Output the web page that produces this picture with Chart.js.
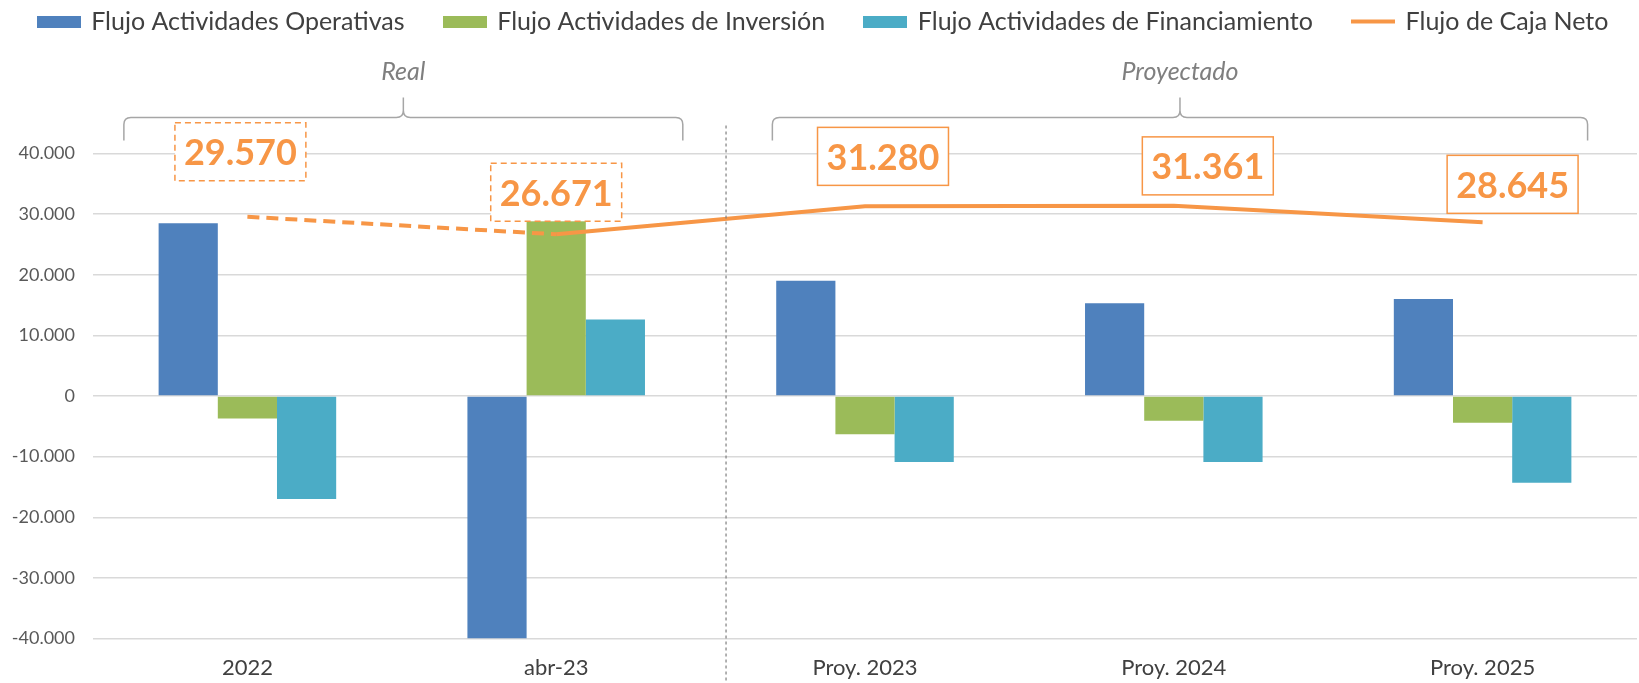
<!DOCTYPE html>
<html>
<head>
<meta charset="utf-8">
<script src="https://cdn.jsdelivr.net/npm/chart.js@4.4.0/dist/chart.umd.min.js"></script>
<style>
  html, body { margin: 0; padding: 0; background: #fff; }
  canvas { display: block; }
</style>
</head>
<body>
<canvas id="chart" width="1639" height="683"></canvas>
<script>
// data
const categories = ['2022', 'abr-23', 'Proy. 2023', 'Proy. 2024', 'Proy. 2025'];
const operativas = [28500, -40000, 19000, 15300, 16000];
const inversion = [-3700, 28900, -6300, -4100, -4400];
const financiamiento = [-17000, 12600, -10900, -10900, -14300];
const cajaNeto = [29570, 26671, 31280, 31361, 28645];
const seriesNames = ['Flujo Actividades Operativas', 'Flujo Actividades de Inversión',
  'Flujo Actividades de Financiamiento', 'Flujo de Caja Neto'];
const groupNames = ['Real', 'Proyectado'];
const realCount = 2;   // first two categories are actual figures
const yMin = -40000, yMax = 40000, yStep = 10000;

const BLUE = '#4F81BD', GREEN = '#9BBB59', TEAL = '#4BACC6', ORANGE = '#F79646';

// label box offsets from each point (px)
const labelOffsets = [[-7, -65], [0, -42], [18, -50], [34, -40], [30, -38]];
// bracket spans in category units
const groupSpans = [[-0.4, 1.41], [1.7, 4.34]];
const separatorAt = 1.55;

function fmt(v) {
  const s = Math.abs(Math.round(v)).toString().replace(/\B(?=(\d{3})+(?!\d))/g, '.');
  return (v < 0 ? '-' : '') + s;
}

function legendIcon(color, h) {
  const c = document.createElement('canvas');
  c.width = 44; c.height = 12;
  const x = c.getContext('2d');
  x.fillStyle = color;
  x.fillRect(0, (12 - h) / 2, 44, h);
  return c;
}
const legendIcons = [legendIcon(BLUE, 12), legendIcon(GREEN, 12), legendIcon(TEAL, 12), legendIcon(ORANGE, 4)];

function brace(ctx, x1, x2, yLine, yEnd, yTip) {
  const xm = (x1 + x2) / 2, r = 7;
  ctx.beginPath();
  ctx.moveTo(x1, yEnd);
  ctx.lineTo(x1, yLine + r);
  ctx.quadraticCurveTo(x1, yLine, x1 + r, yLine);
  ctx.lineTo(xm - r, yLine);
  ctx.quadraticCurveTo(xm, yLine, xm, yLine - r);
  ctx.lineTo(xm, yTip);
  ctx.moveTo(xm, yLine - r);
  ctx.quadraticCurveTo(xm, yLine, xm + r, yLine);
  ctx.lineTo(x2 - r, yLine);
  ctx.quadraticCurveTo(x2, yLine, x2, yLine + r);
  ctx.lineTo(x2, yEnd);
  ctx.stroke();
}

const decorations = {
  id: 'decorations',
  afterDraw(chart) {
    const ctx = chart.ctx, xs = chart.scales.x, top = chart.chartArea.top;
    ctx.save();
    // brackets + group titles
    ctx.strokeStyle = '#A6A6A6';
    ctx.lineWidth = 1.5;
    ctx.font = 'italic 25px Lato';
    ctx.fillStyle = '#7F7F7F';
    ctx.textAlign = 'center';
    ctx.textBaseline = 'middle';
    groupSpans.forEach((span, i) => {
      const x1 = xs.getPixelForValue(span[0]), x2 = xs.getPixelForValue(span[1]);
      brace(ctx, x1, x2, top - 36, top - 13, top - 56);
      ctx.fillText(groupNames[i], (x1 + x2) / 2, top - 82);
    });
    // dotted separator between real and projected
    const sx = xs.getPixelForValue(separatorAt);
    ctx.strokeStyle = '#7F7F7F';
    ctx.lineWidth = 1.2;
    ctx.setLineDash([3, 3]);
    ctx.beginPath();
    ctx.moveTo(sx, top - 28);
    ctx.lineTo(sx, chart.height);
    ctx.stroke();
    ctx.setLineDash([]);

    // net cash flow labels
    const meta = chart.getDatasetMeta(3);
    ctx.font = 'bold 36px Lato';
    meta.data.forEach((pt, i) => {
      const text = fmt(cajaNeto[i]);
      const cx = pt.x + labelOffsets[i][0], cy = pt.y + labelOffsets[i][1];
      const w = ctx.measureText(text).width + 18, h = 58;
      ctx.fillStyle = '#fff';
      ctx.fillRect(cx - w / 2, cy - h / 2, w, h);
      ctx.setLineDash(i < realCount ? [6, 4] : []);
      ctx.strokeStyle = ORANGE;
      ctx.lineWidth = 1.5;
      ctx.strokeRect(cx - w / 2, cy - h / 2, w, h);
      ctx.setLineDash([]);
      ctx.fillStyle = ORANGE;
      ctx.fillText(text, cx, cy + 2);
    });
    ctx.restore();
  }
};

new Chart(document.getElementById('chart'), {
  type: 'bar',
  data: {
    labels: categories,
    datasets: [
      { label: seriesNames[0], data: operativas, backgroundColor: BLUE },
      { label: seriesNames[1], data: inversion, backgroundColor: GREEN },
      { label: seriesNames[2], data: financiamiento, backgroundColor: TEAL },
      {
        type: 'line', label: seriesNames[3], data: cajaNeto, order: -1,
        borderColor: ORANGE, backgroundColor: ORANGE, borderWidth: 4,
        pointRadius: 0, tension: 0,
        segment: { borderDash: c => (c.p0DataIndex < realCount - 1 ? [12, 7] : undefined) }
      }
    ]
  },
  options: {
    responsive: false,
    animation: false,
    layout: { padding: { left: 10, right: 2, top: 0, bottom: 0 } },
    datasets: { bar: { categoryPercentage: 0.575, barPercentage: 1 } },
    plugins: {
      tooltip: { enabled: false },
      legend: {
        position: 'top',
        labels: {
          usePointStyle: true,
          pointStyleWidth: 40,
          padding: 9,
          color: '#404040',
          font: { family: 'Lato', size: 25 },
          sort: (a, b) => a.datasetIndex - b.datasetIndex,
          generateLabels(chart) {
            const items = Chart.defaults.plugins.legend.labels.generateLabels(chart);
            items.forEach(it => {
              it.pointStyle = legendIcons[it.datasetIndex];
              // trailing spaces give the wider gap between legend entries
              if (it.datasetIndex < seriesNames.length - 1) it.text += '\u2003\u2002';
            });
            return items;
          }
        }
      },
      // empty title used as spacer under the legend
      title: { display: true, text: '', weight: 100, font: { size: 1, lineHeight: 1 }, padding: { top: 0, bottom: 108.5 } }
    },
    scales: {
      x: {
        grid: { display: false },
        border: { display: false },
        ticks: { color: '#404040', font: { family: 'Lato', size: 22 }, padding: 8 },
        afterFit: s => { s.height = 44.5; }
      },
      y: {
        min: yMin, max: yMax,
        grid: { color: '#D9D9D9', lineWidth: 1.5, drawTicks: false },
        border: { display: false },
        ticks: {
          stepSize: yStep, padding: 18, color: '#595959',
          font: { family: 'Lato', size: 18 },
          callback: v => fmt(v)
        },
        afterFit: s => { s.width = 83; }
      }
    }
  },
  plugins: [decorations]
});
</script>
</body>
</html>
